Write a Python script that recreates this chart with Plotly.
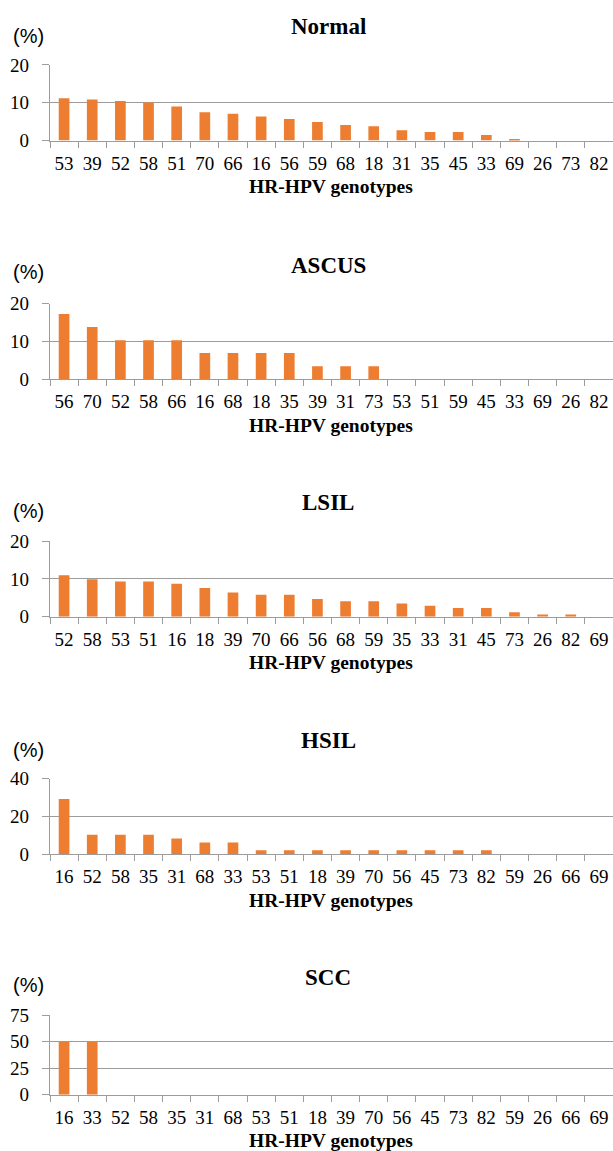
import plotly.graph_objects as go

# ---------------- data ----------------
normal_genotypes = ["53", "39", "52", "58", "51", "70", "66", "16", "56", "59",
                    "68", "18", "31", "35", "45", "33", "69", "26", "73", "82"]
normal_values = [11.2, 10.9, 10.5, 10.1, 9.0, 7.5, 7.1, 6.4, 5.7, 4.9,
                 4.1, 3.8, 2.7, 2.3, 2.3, 1.5, 0.4, 0, 0, 0]

ascus_genotypes = ["56", "70", "52", "58", "66", "16", "68", "18", "35", "39",
                   "31", "73", "53", "51", "59", "45", "33", "69", "26", "82"]
ascus_values = [17.2, 13.8, 10.3, 10.3, 10.3, 6.9, 6.9, 6.9, 6.9, 3.4,
                3.4, 3.4, 0, 0, 0, 0, 0, 0, 0, 0]

lsil_genotypes = ["52", "58", "53", "51", "16", "18", "39", "70", "66", "56",
                  "68", "59", "35", "33", "31", "45", "73", "26", "82", "69"]
lsil_values = [11.0, 9.9, 9.3, 9.3, 8.7, 7.6, 6.4, 5.8, 5.8, 4.7,
               4.1, 4.1, 3.5, 2.9, 2.3, 2.3, 1.2, 0.6, 0.6, 0]

hsil_genotypes = ["16", "52", "58", "35", "31", "68", "33", "53", "51", "18",
                  "39", "70", "56", "45", "73", "82", "59", "26", "66", "69"]
hsil_values = [29.2, 10.4, 10.4, 10.4, 8.3, 6.3, 6.3, 2.1, 2.1, 2.1,
               2.1, 2.1, 2.1, 2.1, 2.1, 2.1, 0, 0, 0, 0]

scc_genotypes = ["16", "33", "52", "58", "35", "31", "68", "53", "51", "18",
                 "39", "70", "56", "45", "73", "82", "59", "26", "66", "69"]
scc_values = [50, 50, 0, 0, 0, 0, 0, 0, 0, 0,
              0, 0, 0, 0, 0, 0, 0, 0, 0, 0]

panel_titles = ["Normal", "ASCUS", "LSIL", "HSIL", "SCC"]
y_maxima = [20, 20, 20, 40, 75]
y_dticks = [10, 10, 10, 20, 25]
x_title_text = "HR-HPV genotypes"
y_unit_text = "(%)"

# ---------------- layout geometry (pixels) ----------------
W, H = 613, 1151
plot_left = 50
plot_right = 613
# (top gridline y, zero line y, "(%)" offset above top gridline)
panel_geom = [
    (56.0, 133.0, 29.5),
    (299.0, 376.0, 32.5),
    (541.0, 618.0, 31.0),
    (783.0, 860.0, 29.0),
    (1024.0, 1105.0, 30.5),
]

BAR = "#ED7D31"
GRID = "#9C9C9C"
SERIF = "Liberation Serif, Times New Roman, serif"
SANS = "Liberation Sans, Arial, sans-serif"

def px_x(x):
    return x / W

def px_y(y):
    return 1 - y / H

datasets = [
    (normal_genotypes, normal_values),
    (ascus_genotypes, ascus_values),
    (lsil_genotypes, lsil_values),
    (hsil_genotypes, hsil_values),
    (scc_genotypes, scc_values),
]

fig = go.Figure()
annotations = []

for i, ((cats, vals), title, ymax, dt, geom) in enumerate(
        zip(datasets, panel_titles, y_maxima, y_dticks, panel_geom)):
    n = i + 1
    xa = "x" if n == 1 else f"x{n}"
    ya = "y" if n == 1 else f"y{n}"
    top, zero, unit_off = geom
    fig.add_trace(go.Bar(
        x=cats, y=vals, xaxis=xa, yaxis=ya,
        marker=dict(color=BAR, line=dict(width=0)),
        showlegend=False, hoverinfo="x+y",
    ))
    xkey = "xaxis" if n == 1 else f"xaxis{n}"
    ykey = "yaxis" if n == 1 else f"yaxis{n}"
    fig.layout[xkey] = dict(
        domain=[px_x(plot_left), px_x(plot_right)],
        anchor=ya, type="category",
        categoryorder="array", categoryarray=cats,
        range=[-0.5, len(cats) - 0.5],
        tickson="boundaries", ticks="outside", ticklen=6,
        tickcolor=GRID, tickwidth=1.3, tickangle=0,
        showline=True, linecolor=GRID, linewidth=1.3,
        showgrid=False, zeroline=False,
        tickfont=dict(family=SERIF, size=19, color="black"),
        ticklabelstandoff=5,
        fixedrange=True,
    )
    fig.layout[ykey] = dict(
        domain=[px_y(zero), px_y(top)],
        anchor=xa, range=[0, ymax], dtick=dt, tick0=0,
        ticks="outside", ticklen=7, tickcolor=GRID, tickwidth=1.3,
        showline=True, linecolor=GRID, linewidth=1.3,
        showgrid=True, gridcolor=GRID, gridwidth=1.3,
        zeroline=False,
        tickfont=dict(family=SERIF, size=19, color="black"),
        ticklabelstandoff=9,
        fixedrange=True,
    )
    annotations.append(dict(
        text=f"<b>{title}</b>", xref="paper", yref="paper",
        x=px_x(328), y=px_y(top - 39), xanchor="center", yanchor="middle",
        showarrow=False, font=dict(family=SERIF, size=23, color="black"),
    ))
    annotations.append(dict(
        text=y_unit_text, xref="paper", yref="paper",
        x=px_x(11), y=px_y(top - unit_off), xanchor="left", yanchor="middle",
        showarrow=False, font=dict(family=SANS, size=20, color="black"),
    ))
    annotations.append(dict(
        text=f"<b>{x_title_text}</b>", xref="paper", yref="paper",
        x=px_x(331), y=px_y(zero + 47), xanchor="center", yanchor="middle",
        showarrow=False, font=dict(family=SERIF, size=19.5, color="black"),
    ))

fig.update_layout(
    width=W, height=H,
    margin=dict(l=0, r=0, t=0, b=0),
    paper_bgcolor="white", plot_bgcolor="white",
    bargap=0.62,
    annotations=annotations,
)

fig.write_html(
    "out.html",
    config={"displayModeBar": False},
    post_script="document.body.style.margin='0';document.body.style.overflow='hidden';",
)
